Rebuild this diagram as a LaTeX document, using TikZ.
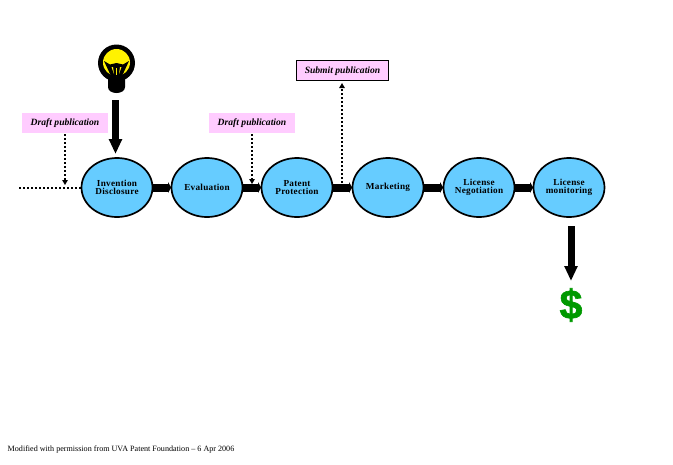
\documentclass[tikz,border=0pt]{standalone}
\usepackage{fontspec}
\setmainfont{Liberation Serif}
\newfontfamily\dollarfont[FakeBold=1.5]{Liberation Sans Bold}
\usetikzlibrary{arrows.meta,shapes.geometric}
\definecolor{stepblue}{RGB}{102,204,255}
\definecolor{pubpink}{RGB}{255,204,255}
\definecolor{moneygreen}{RGB}{0,153,0}
\tikzset{
  stepnode/.style={ellipse,draw=black,line width=1.7pt,fill=stepblue,minimum width=71pt,minimum height=59pt,inner sep=0pt,align=center,
    font=\fontsize{9.2}{8}\selectfont\bfseries\addfontfeatures{LetterSpace=3}},
  pubnode/.style={fill=pubpink,minimum width=86pt,minimum height=20pt,inner sep=0pt,text height=8pt,text depth=2pt,
    font=\fontsize{9.6}{11}\selectfont\bfseries\itshape},
  flowarrow/.style={line width=8pt,-{Triangle[length=3pt,width=10.5pt]},shorten >=-0.5pt,shorten <=-0.5pt},
  bigarrow/.style={line width=7pt,-{Triangle[length=15pt,width=12.5pt]}},
  dotline/.style={line width=2pt,dash pattern=on 2pt off 2pt},
  pubarrow/.style={dotline,-{Triangle[length=5pt,width=5.5pt]}},
}
\begin{document}
\begin{tikzpicture}[x=1pt,y=-1pt]
\useasboundingbox[fill=white] (0,0) rectangle (673,464);

% light bulb
\fill[black] (116.5,63) circle (18.5);
\fill[black] (108,74) -- (125,74) -- (125,87) .. controls (125,95) and (108,95) .. (108,87) -- cycle;
\fill[yellow] (116.5,62.5) circle (13.5);
\fill[black] (104,61) -- (110,64.5) -- (116.5,63) -- (123,64.5) -- (129,61) -- (122,76) -- (111,76) -- cycle;
\fill[yellow] (111.5,67) -- (113,67) -- (114,74) -- cycle;
\fill[yellow] (121.5,67) -- (120,67) -- (119,74) -- cycle;
\fill[yellow] (116,68) rectangle (117,75);
\coordinate (bulbfoot) at (115.5,100);

% process steps
\node[stepnode] (invention) at (117,187.5) {Invention\\Disclosure};
\node[stepnode] (evaluation) at (207,187.5) {Evaluation};
\node[stepnode] (patent) at (297,187.5) {Patent\\Protection};
\node[stepnode] (marketing) at (388,187.5) {Marketing};
\node[stepnode] (negotiation) at (479,187.5) {License\\Negotiation};
\node[stepnode] (monitoring) at (569,187.5) {License\\monitoring};

% publication labels
\node[pubnode] (draftone) at (65,122.5) {Draft publication};
\node[pubnode] (drafttwo) at (252,122.5) {Draft publication};
\node[pubnode,draw=black,line width=1pt,minimum width=92pt] (submit) at (342.5,70.5) {Submit publication};

% footer
\node[anchor=west,inner sep=0pt,font=\fontsize{8.1}{9}\selectfont] (credit) at (7.5,450) {Modified with permission from UVA Patent Foundation -- 6 Apr 2006};

% dollar
\node[inner sep=0pt,text=moneygreen,font=\fontsize{41}{41}\selectfont\dollarfont] (dollar) at (571,305) {\$};

% flow arrows
\draw[flowarrow] (invention) -- (evaluation);
\draw[flowarrow] (evaluation) -- (patent);
\draw[flowarrow] (patent) -- (marketing);
\draw[flowarrow] (marketing) -- (negotiation);
\draw[flowarrow] (negotiation) -- (monitoring);

% big arrows
\coordinate (inventiontop) at (115.5,154);
\draw[bigarrow] (bulbfoot) -- (inventiontop);
\coordinate (monitorfoot) at (571,226);
\coordinate (dollartop) at (571,281);
\draw[bigarrow] (monitorfoot) -- (dollartop);

% dotted lines
\coordinate (leadin) at (19,187.5);
\draw[dotline] (leadin) -- (invention.west);
\coordinate (draftonefoot) at (65,134);
\coordinate (draftonehit) at (65,185);
\draw[pubarrow] (draftonefoot) -- (draftonehit);
\coordinate (drafttwofoot) at (252,134);
\coordinate (drafttwohit) at (252,184);
\draw[pubarrow] (drafttwofoot) -- (drafttwohit);
\coordinate (submitstart) at (342,183);
\coordinate (submitend) at (342,83);
\draw[pubarrow] (submitstart) -- (submitend);
\end{tikzpicture}
\end{document}
